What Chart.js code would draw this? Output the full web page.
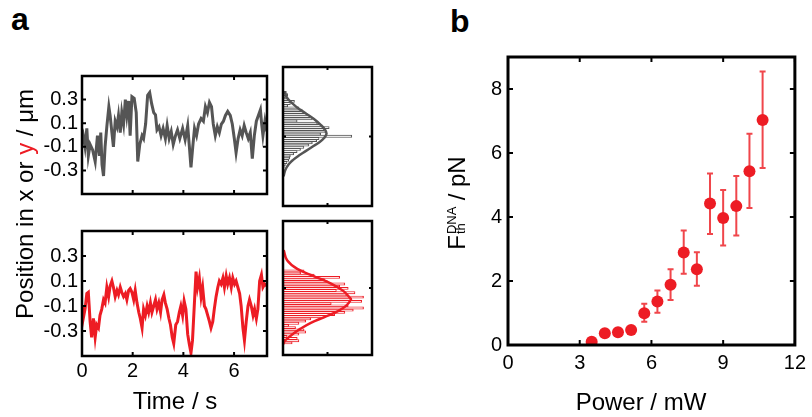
<!DOCTYPE html>
<html>
<head>
<meta charset="utf-8">
<script src="https://cdn.jsdelivr.net/npm/chart.js@4.4.1/dist/chart.umd.min.js"></script>
<style>
  html, body { margin: 0; padding: 0; background: #fff; }
  body { width: 812px; height: 417px; position: relative; overflow: hidden; font-family: "Liberation Sans", Arial, sans-serif; }
  canvas { position: absolute; }
  .txt { position: absolute; line-height: 1; white-space: nowrap; color: #000; }
  .rot { transform: rotate(-90deg); text-align: center; }
</style>
</head>
<body>
<div class="txt" style="left:11px; top:3px; font-size:32px; font-weight:bold;">a</div>
<div class="txt" style="left:450px; top:5px; font-size:32px; font-weight:bold;">b</div>

<canvas id="traceTop" width="275" height="150" style="left:0px; top:60px;"></canvas>
<canvas id="traceBot" width="275" height="202" style="left:0px; top:215px;"></canvas>
<canvas id="histTop" width="100" height="150" style="left:280px; top:60px;"></canvas>
<canvas id="histBot" width="100" height="150" style="left:280px; top:215px;"></canvas>
<canvas id="power" width="392" height="417" style="left:420px; top:0px;"></canvas>

<div class="txt rot" style="left:-125px; top:192px; width:300px; height:24px; font-size:24px;">Position in x or <span style="color:#ed1c24">y</span> / μm</div>
<div class="txt" style="left:75px; top:389px; width:200px; text-align:center; font-size:24px;">Time / s</div>
<div class="txt" style="left:541px; top:390px; width:200px; text-align:center; font-size:24px;">Power / mW</div>
<div class="txt rot" style="left:357px; top:191px; width:200px; height:24px; font-size:24px;">F<span style="position:relative; display:inline-block; width:28px; height:1px;"><span style="position:absolute; left:1px; bottom:7px; font-size:13px; line-height:1;">DNA</span><span style="position:absolute; left:1px; bottom:-2px; font-size:13px; line-height:1;">th</span></span> / pN</div>

<script>
const FONT = '"Liberation Sans", Arial, sans-serif';
const GREY = 'rgb(85,85,85)';
const RED = 'rgb(237,28,36)';
const ERR_RED = 'rgb(240,70,75)';

// panel a: tick labels
const timeTicks = [0, 2, 4, 6];
const posTicks = [-0.3, -0.1, 0.1, 0.3];

// panel a, upper trace (grey)
const timeTop = [
  0, 0.05, 0.12, 0.19, 0.25, 0.32, 0.42, 0.52, 0.61, 0.69,
  0.74, 0.79, 0.85, 0.91, 0.98, 1.06, 1.11, 1.18, 1.24, 1.31,
  1.38, 1.44, 1.51, 1.57, 1.64, 1.71, 1.77, 1.84, 1.90, 1.97,
  2.06, 2.14, 2.20, 2.28, 2.37, 2.43, 2.51, 2.59, 2.67, 2.75,
  2.83, 2.90, 2.96, 3.04, 3.12, 3.20, 3.29, 3.36, 3.44, 3.52,
  3.60, 3.69, 3.77, 3.86, 3.97, 4.07, 4.17, 4.23, 4.30, 4.37,
  4.44, 4.52, 4.60, 4.70, 4.79, 4.87, 4.95, 5.03, 5.11, 5.18,
  5.26, 5.34, 5.42, 5.50, 5.58, 5.66, 5.75, 5.85, 5.93, 6.01,
  6.08, 6.16, 6.24, 6.32, 6.40, 6.48, 6.56, 6.64, 6.72, 6.80,
  6.88, 6.96, 7.04, 7.09, 7.14, 7.22, 7.30
];
const posTop = [
  -0.05, -0.005, -0.10, 0.056, -0.176, -0.08, -0.127, -0.225, -0.005, -0.176,
  0.02, -0.25, -0.347, -0.10, 0.07, 0.24, 0.166, 0.02, -0.10, 0.117,
  0.07, 0.166, 0.02, 0.19, 0.093, 0.30, 0.166, 0.288, -0.005, 0.325,
  0.31, 0.19, -0.225, -0.08, -0.005, -0.03, 0.093, 0.337, 0.36, 0.263,
  0.19, 0.17, 0.044, 0.07, -0.005, 0.056, -0.03, 0.08, -0.03, 0.03,
  -0.08, -0.005, 0.044, -0.03, 0.056, -0.04, 0.08, -0.08, -0.274, -0.10,
  0.056, -0.005, 0.093, 0.14, 0.117, 0.24, 0.19, 0.276, 0.24, 0.093,
  -0.005, 0.07, 0.02, 0.093, 0.117, 0.166, 0.20, 0.166, 0.093, -0.03,
  -0.15, -0.03, 0.044, -0.005, 0.08, 0.02, -0.03, 0.02, -0.20, -0.005,
  0.117, 0.166, 0.214, 0.093, -0.005, 0.12, 0.03
];

// panel a, lower trace (red)
const timeBot = [
  0.00, 0.02, 0.05, 0.12, 0.19, 0.25, 0.32, 0.38, 0.45, 0.52,
  0.58, 0.65, 0.71, 0.78, 0.85, 0.91, 0.98, 1.05, 1.11, 1.18,
  1.24, 1.31, 1.38, 1.44, 1.51, 1.57, 1.64, 1.71, 1.77, 1.84,
  1.90, 1.97, 2.04, 2.10, 2.17, 2.24, 2.30, 2.37, 2.43, 2.50,
  2.57, 2.63, 2.70, 2.76, 2.83, 2.90, 2.96, 3.03, 3.10, 3.16,
  3.23, 3.29, 3.36, 3.43, 3.49, 3.56, 3.62, 3.70, 3.77, 3.84,
  3.90, 3.97, 4.03, 4.10, 4.17, 4.23, 4.30, 4.36, 4.43, 4.50,
  4.56, 4.63, 4.70, 4.76, 4.83, 4.89, 4.96, 5.03, 5.09, 5.16,
  5.22, 5.29, 5.36, 5.42, 5.49, 5.56, 5.62, 5.69, 5.75, 5.82,
  5.89, 5.95, 6.02, 6.08, 6.15, 6.22, 6.28, 6.35, 6.41, 6.48,
  6.55, 6.61, 6.68, 6.75, 6.81, 6.88, 6.94, 7.01, 7.08, 7.14,
  7.21, 7.30
];
const posBot = [
  -0.175, -0.10, -0.20, -0.125, 0.0, 0.01, -0.225, -0.35, -0.20, -0.35,
  -0.25, -0.275, -0.175, -0.125, -0.05, -0.075, 0.05, -0.025, 0.06, 0.10,
  0.05, -0.025, 0.025, -0.01, 0.05, 0.01, -0.025, 0.0, -0.05, 0.025,
  0.04, 0.01, -0.05, 0.025, -0.075, -0.15, -0.20, -0.275, -0.125, -0.175,
  -0.10, -0.15, -0.075, -0.15, -0.10, -0.05, -0.125, -0.075, -0.15, -0.05,
  -0.01, -0.075, -0.125, -0.20, -0.25, -0.35, -0.40, -0.25, -0.225, -0.15,
  -0.10, -0.175, -0.06, -0.125, -0.325, -0.40, -0.475, -0.375, -0.10, 0.175,
  0.05, 0.125, -0.025, 0.05, -0.10, -0.125, -0.175, -0.225, -0.275, -0.225,
  -0.125, -0.025, 0.05, 0.10, 0.075, 0.125, 0.05, 0.14, 0.075, 0.125,
  0.05, 0.125, 0.075, 0.10, 0.05, 0.0, -0.10, -0.275, -0.375, -0.225,
  -0.10, -0.05, -0.10, -0.175, -0.125, -0.20, -0.125, 0.10, 0.15, 0.05,
  0.075, 0.06
];

// panel a, histograms: bin centres (µm) and counts (% of box width)
const binsTop = [
  0.371, 0.351, 0.332, 0.313, 0.295, 0.277, 0.258, 0.240, 0.222, 0.203,
  0.185, 0.167, 0.148, 0.130, 0.112, 0.093, 0.075, 0.057, 0.038, 0.020,
  0.002, -0.017, -0.035, -0.053, -0.072, -0.090, -0.108, -0.127, -0.145, -0.163,
  -0.182, -0.200, -0.218, -0.237, -0.255, -0.273, -0.292, -0.310, -0.328, -0.347
];
const countsTop = [
  3.8, 5.3, 2.7, 6.4, 12.9, 8.3, 5.3, 17.8, 21.6, 23.5,
  27.3, 30.3, 33.0, 15.9, 38.6, 42.4, 51.9, 46.2, 48.1, 42.4,
  77.3, 40.5, 37.9, 33.0, 29.2, 23.5, 19.7, 15.9, 12.1, 8.3,
  7.6, 6.4, 4.5, 2.7, 1.5, 0.8, 0.5, 0.8, 1.5, 0.8
];
const fitTopPos = [0.378, 0.317, 0.244, 0.195, 0.146, 0.097, 0.06, 0.024, -0.013, -0.05, -0.086, -0.123, -0.16, -0.196, -0.233, -0.28, -0.33];
const fitTopCount = [1.5, 5.3, 15.9, 25.4, 34.8, 42.4, 47.0, 48.9, 46.2, 40.5, 33.0, 25.4, 17.8, 11.4, 6.4, 2.7, 0.8];

const binsBot = [
  0.149, 0.130, 0.111, 0.092, 0.073, 0.054, 0.035, 0.016, -0.003, -0.022,
  -0.041, -0.060, -0.079, -0.098, -0.117, -0.136, -0.155, -0.174, -0.193, -0.212,
  -0.231, -0.250, -0.269, -0.288, -0.307, -0.326, -0.345, -0.364, -0.383, -0.402,
  -0.421, -0.440, -0.459, -0.478
];
const countsBot = [
  23.7, 19.8, 35.1, 63.7, 46.6, 50.4, 69.5, 63.7, 73.3, 59.9,
  80.9, 71.4, 90.5, 77.1, 88.5, 54.2, 73.3, 90.5, 79.0, 69.5,
  58.0, 46.6, 31.3, 25.6, 17.9, 6.5, 14.1, 23.7, 25.6, 17.9,
  4.6, 16.0, 17.9, 10.3
];
const fitBotPos = [0.33, 0.241, 0.166, 0.102, 0.039, -0.025, -0.088, -0.10, -0.151, -0.202, -0.253, -0.303, -0.354, -0.405, -0.455, -0.49];
const fitBotCount = [0.8, 4.6, 16.0, 35.0, 54.0, 67.7, 75.5, 76.3, 71.4, 61.8, 46.6, 31.3, 19.8, 10.3, 2.7, 0.0];

// panel b
const powerTicks = [0, 3, 6, 9, 12];
const forceTicks = [0, 2, 4, 6, 8];
const power = [3.5, 4.05, 4.6, 5.15, 5.7, 6.25, 6.8, 7.35, 7.9, 8.45, 9.0, 9.55, 10.1, 10.65];
const force = [0.10, 0.37, 0.40, 0.47, 0.99, 1.36, 1.88, 2.89, 2.37, 4.42, 3.97, 4.34, 5.43, 7.03];
const forceLow = [null, null, null, null, 0.73, 1.01, 1.41, 2.23, 1.85, 3.47, 3.11, 3.42, 4.28, 5.53];
const forceHigh = [null, null, null, null, 1.29, 1.70, 2.37, 3.58, 2.90, 5.36, 4.84, 5.28, 6.60, 8.55];

// box round the plot area with inward ticks on all four sides
const framePlugin = {
  id: 'frame',
  afterDraw(chart, args, opts) {
    const { ctx, chartArea: a, scales } = chart;
    const len = opts.len;
    ctx.save();
    ctx.strokeStyle = '#000';
    ctx.lineWidth = 2;
    ctx.beginPath();
    (opts.xTicks || []).forEach(v => {
      const px = scales.x.getPixelForValue(v);
      ctx.moveTo(px, a.top); ctx.lineTo(px, a.top + len);
      ctx.moveTo(px, a.bottom); ctx.lineTo(px, a.bottom - len);
    });
    (opts.yTicks || []).forEach(v => {
      const py = scales.y.getPixelForValue(v);
      ctx.moveTo(a.left, py); ctx.lineTo(a.left + len, py);
      ctx.moveTo(a.right, py); ctx.lineTo(a.right - len, py);
    });
    ctx.stroke();
    ctx.lineWidth = opts.width;
    ctx.strokeRect(a.left, a.top, a.right - a.left, a.bottom - a.top);
    ctx.restore();
  }
};

const errorBars = {
  id: 'errorBars',
  beforeDatasetsDraw(chart) {
    const { ctx, scales: { x, y } } = chart;
    ctx.save();
    ctx.strokeStyle = ERR_RED;
    ctx.lineWidth = 2;
    ctx.beginPath();
    power.forEach((p, i) => {
      if (forceLow[i] == null) return;
      const px = x.getPixelForValue(p);
      const lo = y.getPixelForValue(forceLow[i]);
      const hi = y.getPixelForValue(forceHigh[i]);
      ctx.moveTo(px, lo); ctx.lineTo(px, hi);
      ctx.moveTo(px - 3, lo); ctx.lineTo(px + 3, lo);
      ctx.moveTo(px - 3, hi); ctx.lineTo(px + 3, hi);
    });
    ctx.stroke();
    ctx.restore();
  }
};

const toXY = (xs, ys) => xs.map((v, i) => ({ x: v, y: ys[i] }));
const tickFont = { family: FONT, size: 20 };
const noGrid = { display: false, drawTicks: false };

function traceChart(id, times, pos, color, showTime, pad, xHeight) {
  new Chart(document.getElementById(id), {
    type: 'line',
    data: {
      datasets: [{
        data: toXY(times, pos),
        borderColor: color,
        borderWidth: 3,
        pointRadius: 0,
        tension: 0
      }]
    },
    options: {
      responsive: false,
      animation: false,
      layout: { padding: pad },
      scales: {
        x: {
          type: 'linear', min: 0, max: 7.3,
          display: showTime,
          grid: noGrid, border: { display: false },
          ticks: { color: '#000', font: tickFont, padding: 3 },
          afterBuildTicks: s => { s.ticks = timeTicks.map(v => ({ value: v })); },
          afterFit: s => { s.height = xHeight; }
        },
        y: {
          type: 'linear', min: -0.5, max: 0.5,
          grid: noGrid, border: { display: false },
          ticks: { color: '#000', font: tickFont, padding: 4 },
          afterBuildTicks: s => { s.ticks = posTicks.map(v => ({ value: v })); },
          afterFit: s => { s.width = 82; }
        }
      },
      plugins: {
        legend: { display: false },
        tooltip: { enabled: false },
        frame: { xTicks: timeTicks, yTicks: posTicks, len: 4, width: 2.5 }
      }
    },
    plugins: [framePlugin]
  });
}

function histChart(id, bins, counts, fitPos, fitCount, color, pad) {
  new Chart(document.getElementById(id), {
    type: 'bar',
    data: {
      datasets: [{
        type: 'line',
        data: toXY(fitCount, fitPos),
        borderColor: color,
        borderWidth: 2.5,
        pointRadius: 0,
        tension: 0.4
      }, {
        type: 'bar',
        data: toXY(counts, bins),
        backgroundColor: '#fff',
        borderColor: color,
        borderWidth: 1,
        borderSkipped: 'start',
        barPercentage: 1,
        categoryPercentage: 1
      }]
    },
    options: {
      indexAxis: 'y',
      responsive: false,
      animation: false,
      layout: { padding: pad },
      scales: {
        x: { type: 'linear', min: 0, max: 100, display: false },
        y: { type: 'linear', min: -0.5, max: 0.5, display: false }
      },
      plugins: {
        legend: { display: false },
        tooltip: { enabled: false },
        frame: { xTicks: [50], yTicks: [0], len: 3, width: 2.5 }
      }
    },
    plugins: [framePlugin]
  });
}

traceChart('traceTop', timeTop, posTop, GREY, false, { left: 0, right: 8, top: 6, bottom: 5 }, 0);
traceChart('traceBot', timeBot, posBot, RED, true, { left: 0, right: 8, top: 8, bottom: 0 }, 61);
histChart('histTop', binsTop, countsTop, fitTopPos, fitTopCount, GREY, { left: 3, right: 8, top: 7, bottom: 4 });
histChart('histBot', binsBot, countsBot, fitBotPos, fitBotCount, RED, { left: 3, right: 8, top: 6, bottom: 10 });

new Chart(document.getElementById('power'), {
  type: 'scatter',
  data: {
    datasets: [{
      data: toXY(power, force),
      backgroundColor: RED,
      borderWidth: 0,
      pointRadius: 6
    }]
  },
  options: {
    responsive: false,
    animation: false,
    layout: { padding: { left: 0, right: 13, top: 57, bottom: 0 } },
    scales: {
      x: {
        type: 'linear', min: 0, max: 12,
        grid: noGrid, border: { display: false },
        ticks: { color: '#000', font: tickFont, padding: 6 },
        afterBuildTicks: s => { s.ticks = powerTicks.map(v => ({ value: v })); },
        afterFit: s => { s.height = 72; }
      },
      y: {
        type: 'linear', min: 0, max: 9,
        grid: noGrid, border: { display: false },
        ticks: { color: '#000', font: tickFont, padding: 6 },
        afterBuildTicks: s => { s.ticks = forceTicks.map(v => ({ value: v })); },
        afterFit: s => { s.width = 88; }
      }
    },
    plugins: {
      legend: { display: false },
      tooltip: { enabled: false },
      frame: { xTicks: powerTicks, yTicks: forceTicks, len: 5, width: 3 }
    }
  },
  plugins: [framePlugin, errorBars]
});
</script>
</body>
</html>
